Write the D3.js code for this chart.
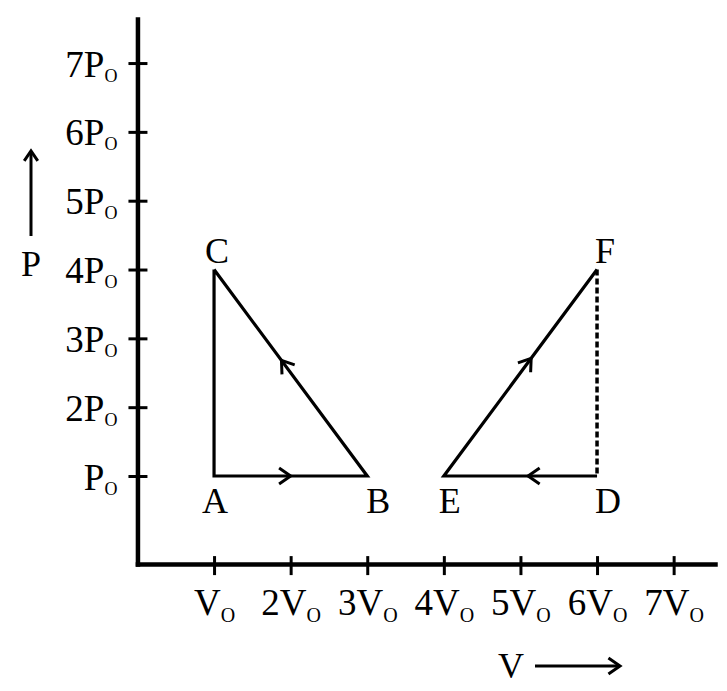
<!DOCTYPE html>
<html><head><meta charset="utf-8">
<script src="https://cdn.jsdelivr.net/npm/d3@7"></script>
<style>body{margin:0;background:#fff}svg{display:block}text{font-family:"Liberation Serif","Times New Roman",serif;fill:#000}</style>
</head><body><svg id="c" width="727" height="691"></svg>
<script>
// data
const vTicks = [1,2,3,4,5,6,7];
const vTickLabels = ["", "2", "3", "4", "5", "6", "7"];
const pTicks = [1,2,3,4,5,6,7];
const pTickLabels = ["", "2", "3", "4", "5", "6", "7"];
const cycle1Names = ["A","B","C"];
const cycle1V = [1,3,1];
const cycle1P = [1,1,4];
const cycle2Names = ["E","D","F"];
const cycle2V = [4,6,6];
const cycle2P = [1,1,4];

const svg = d3.select("#c");
const x = d3.scaleLinear().domain([0,7.54]).range([137.45,715]);
const y = d3.scaleLinear().domain([-0.28,7.64]).range([564.1,19]);
const X0 = x(0), Y0 = y(-0.28);

// axes
const xa = svg.append("g").attr("transform",`translate(0,${Y0})`)
  .call(d3.axisBottom(x).tickValues(vTicks).tickSize(11).tickSizeOuter(0));
const ya = svg.append("g").attr("transform",`translate(${X0},0)`)
  .call(d3.axisLeft(y).tickValues(pTicks).tickSize(9).tickSizeOuter(0));
[xa,ya].forEach(g=>{
  g.select(".domain").attr("stroke","#000").attr("stroke-width",4.5).attr("stroke-linecap","square");
  g.selectAll(".tick line").attr("stroke","#000").attr("stroke-width",3);
});
xa.selectAll(".tick line").attr("y1",-8).attr("y2",11);
ya.selectAll(".tick line").attr("x1",-9).attr("x2",10);

function subLabel(sel, labels, letter, subSize, subDy){
  sel.each(function(d,i){
    const t = d3.select(this);
    t.text(null).attr("font-size",37).attr("font-family",null).attr("fill","#000");
    t.append("tspan").text(labels[i] + letter);
    t.append("tspan").attr("font-size",subSize).attr("dy",subDy).text("O");
  });
}
xa.selectAll(".tick text").attr("y",51).attr("dy",0);
subLabel(xa.selectAll(".tick text"), vTickLabels, "V", 20, 7);
ya.selectAll(".tick text").attr("x",-20).attr("dy",13);
subLabel(ya.selectAll(".tick text"), pTickLabels, "P", 18, 5);
xa.attr("font-family",null); ya.attr("font-family",null);

// chevron arrowhead helper
function chevron(tx,ty,ang,len,spread){
  const a1 = ang+Math.PI-spread, a2 = ang+Math.PI+spread;
  return `M${tx+len*Math.cos(a1)},${ty+len*Math.sin(a1)}L${tx},${ty}L${tx+len*Math.cos(a2)},${ty+len*Math.sin(a2)}`;
}
function seg(x1,y1,x2,y2,opts={}){
  const p = svg.append("line").attr("x1",x1).attr("y1",y1).attr("x2",x2).attr("y2",y2)
    .attr("stroke","#000").attr("stroke-width",opts.w||3);
  if(opts.dash) p.attr("stroke-dasharray",opts.dash);
  return p;
}
function arrowOn(x1,y1,x2,y2,f){
  const tx = x1+(x2-x1)*f, ty = y1+(y2-y1)*f;
  const ang = Math.atan2(y2-y1,x2-x1);
  svg.append("path").attr("d",chevron(tx,ty,ang,14,0.6)).attr("fill","none")
    .attr("stroke","#000").attr("stroke-width",3).attr("stroke-linejoin","miter");
}

// cycle 1: A->B->C->A
const A=[x(cycle1V[0]),y(cycle1P[0])], B=[x(cycle1V[1]),y(cycle1P[1])], C=[x(cycle1V[2]),y(cycle1P[2])];
svg.append("path").attr("d",`M${C[0]},${C[1]}L${A[0]},${A[1]}L${B[0]},${B[1]}L${C[0]},${C[1]}`)
  .attr("fill","none").attr("stroke","#000").attr("stroke-width",3.2).attr("stroke-linejoin","miter");
arrowOn(A[0],A[1],B[0],B[1],0.5);
arrowOn(B[0],B[1],C[0],C[1],0.56);

// cycle 2: D->E->F, F..D dashed
const E=[x(cycle2V[0]),y(cycle2P[0])], D=[x(cycle2V[1]),y(cycle2P[1])], F=[x(cycle2V[2]),y(cycle2P[2])];
svg.append("path").attr("d",`M${D[0]},${D[1]}L${E[0]},${E[1]}L${F[0]},${F[1]}`)
  .attr("fill","none").attr("stroke","#000").attr("stroke-width",3.2).attr("stroke-linejoin","miter");
seg(F[0],F[1],D[0],D[1],{dash:"6,3",w:3.5});
arrowOn(D[0],D[1],E[0],E[1],0.45);
arrowOn(E[0],E[1],F[0],F[1],0.57);

// point labels
const pts = {A:[A,1,37],B:[B,11,37],C:[C,3,-7],E:[E,6,37],D:[D,11,37],F:[F,8,-7]};
Object.entries(pts).forEach(([n,[p,dx,dy]])=>{
  svg.append("text").attr("x",p[0]+dx).attr("y",p[1]+dy).attr("text-anchor","middle")
    .attr("font-size",36).text(n);
});

// axis titles with arrows
svg.append("text").attr("x",31).attr("y",276).attr("text-anchor","middle").attr("font-size",36).text("P");
seg(31,236,31,151,{w:3});
svg.append("path").attr("d",chevron(31,151,-Math.PI/2,12,0.6)).attr("fill","none").attr("stroke","#000").attr("stroke-width",3);
svg.append("text").attr("x",511).attr("y",678).attr("text-anchor","middle").attr("font-size",36).text("V");
seg(535,666,620,666,{w:3});
svg.append("path").attr("d",chevron(620,666,0,14,0.6)).attr("fill","none").attr("stroke","#000").attr("stroke-width",3);
</script></body></html>
